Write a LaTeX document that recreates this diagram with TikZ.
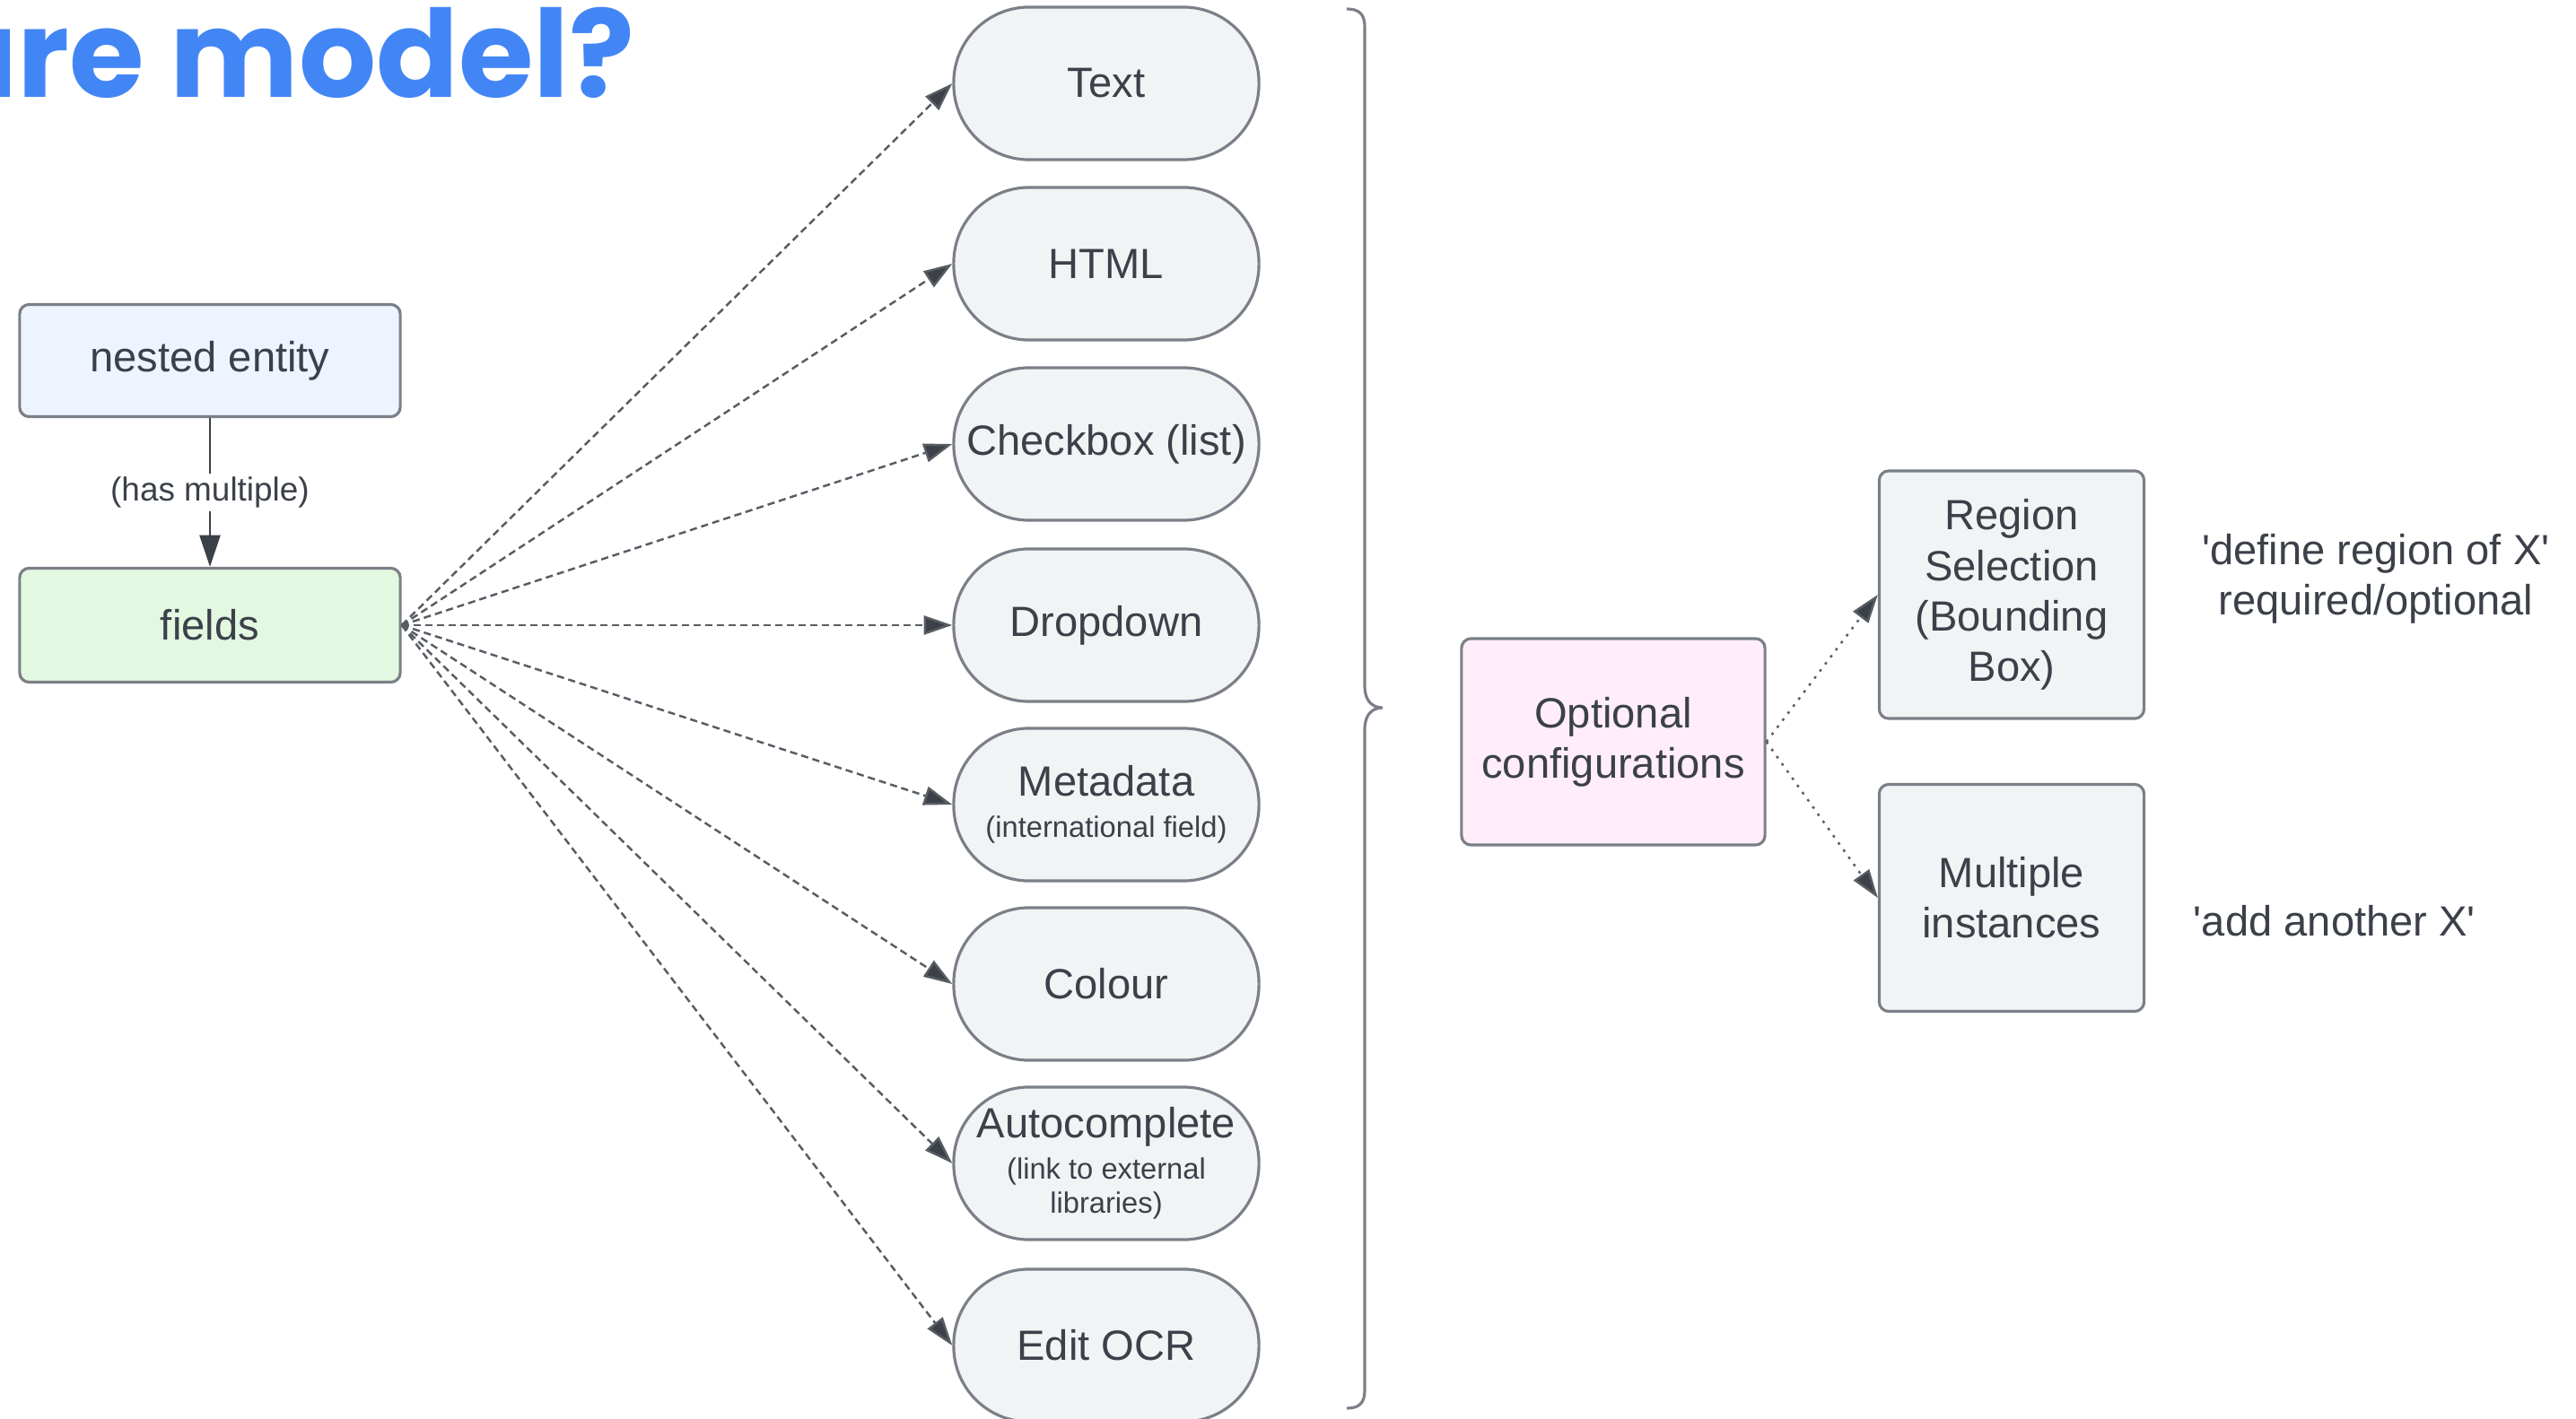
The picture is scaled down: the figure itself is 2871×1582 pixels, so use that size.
\documentclass[tikz,border=0pt]{standalone}
\usepackage{fontspec}
\setmainfont{Liberation Sans}
\newfontfamily\titlefont{Poppins}
\usetikzlibrary{arrows.meta,positioning}
\definecolor{ink}{HTML}{3B4049}
\definecolor{edge}{HTML}{7B7F87}
\definecolor{pillgray}{HTML}{F2F3F5}
\definecolor{nestblue}{HTML}{EDF4FF}
\definecolor{fieldgreen}{HTML}{E2F8E0}
\definecolor{optpink}{HTML}{FFEEFA}
\definecolor{titleblue}{HTML}{4286F5}
\newcommand\subtxt[1]{{\fontsize{9.3}{11.1}\selectfont #1}}
\tikzset{
  box/.style={draw=edge,line width=0.9pt,rounded corners=3pt,align=center,inner sep=2pt},
  pill/.style={box,fill=pillgray,rounded corners=0.84cm,minimum width=3.4cm,minimum height=1.7cm},
  dasharrow/.style={draw=ink!85,line width=0.7pt,dash pattern=on 2.3pt off 1.4pt,
    -{Triangle[length=9pt,width=6pt,fill=ink]}},
  dotarrow/.style={draw=ink!85,line width=0.7pt,dash pattern=on 0.8pt off 2pt,
    -{Triangle[length=9pt,width=6pt,fill=ink]}}
}
\begin{document}
\begin{tikzpicture}[x=0.01cm,y=-0.01cm,
  every node/.style={text=ink,font=\fontsize{13.4}{16}\selectfont}]
  \clip (0,0) rectangle (2871,1582);

  \node[anchor=base east,text=titleblue,
    font=\titlefont\bfseries\fontsize{38.5}{40}\selectfont] (title) at (720,109) {ure model?};

  \node[box,fill=nestblue,minimum width=4.24cm,minimum height=1.25cm] (nested) at (234,402) {nested entity};
  \node[box,fill=fieldgreen,minimum width=4.24cm,minimum height=1.27cm] (fields) at (234,697) {fields};
  \draw[ink,line width=0.8pt,-{Triangle[length=10pt,width=6.5pt]}] (nested) -- (fields)
    node[midway,fill=white,inner sep=1pt,font=\fontsize{10.5}{12}\selectfont] (hasmult) {(has multiple)};

  \node[pill] (text) at (1233,93) {Text};
  \node[pill] (html) at (1233,294) {HTML};
  \node[pill] (check) at (1233,495) {Checkbox (list)};
  \node[pill] (drop) at (1233,697) {Dropdown};
  \node[pill] (meta) at (1233,897) {Metadata\\[-3pt]\subtxt{(international field)}};
  \node[pill] (colour) at (1233,1097) {Colour};
  \node[pill] (auto) at (1233,1297) {Autocomplete\\[-3pt]\subtxt{(link to external}\\[-5pt]\subtxt{libraries)}};
  \node[pill] (ocr) at (1233,1500) {Edit OCR};
  \foreach \name in {text,html,check,drop,meta,colour,auto,ocr}
    \draw[dasharrow] (fields.east) -- (\name.west);

  \draw[edge,line width=0.9pt] (1501,10) .. controls (1515,10) and (1521,16) .. (1521,30)
    -- (1521,765) .. controls (1521,782) and (1530,789) .. (1541,789)
    .. controls (1530,789) and (1521,796) .. (1521,813)
    -- (1521,1550) .. controls (1521,1564) and (1515,1570) .. (1501,1570);

  \node[box,fill=optpink,minimum width=3.38cm,minimum height=2.3cm] (opt) at (1798,827) {Optional\\configurations};
  \node[box,fill=pillgray,minimum width=2.95cm,minimum height=2.76cm] (region) at (2242,663) {Region\\Selection\\(Bounding\\Box)};
  \node[box,fill=pillgray,minimum width=2.95cm,minimum height=2.53cm] (multi) at (2242,1001) {Multiple\\instances};
  \draw[dotarrow] (opt.east) -- (region.west);
  \draw[dotarrow] (opt.east) -- (multi.west);

  \node[align=center] (regnote) at (2648,645) {\textquotesingle define region of X\textquotesingle\\required/optional};
  \node (multnote) at (2602,1027) {\textquotesingle add another X\textquotesingle};
\end{tikzpicture}
\end{document}
